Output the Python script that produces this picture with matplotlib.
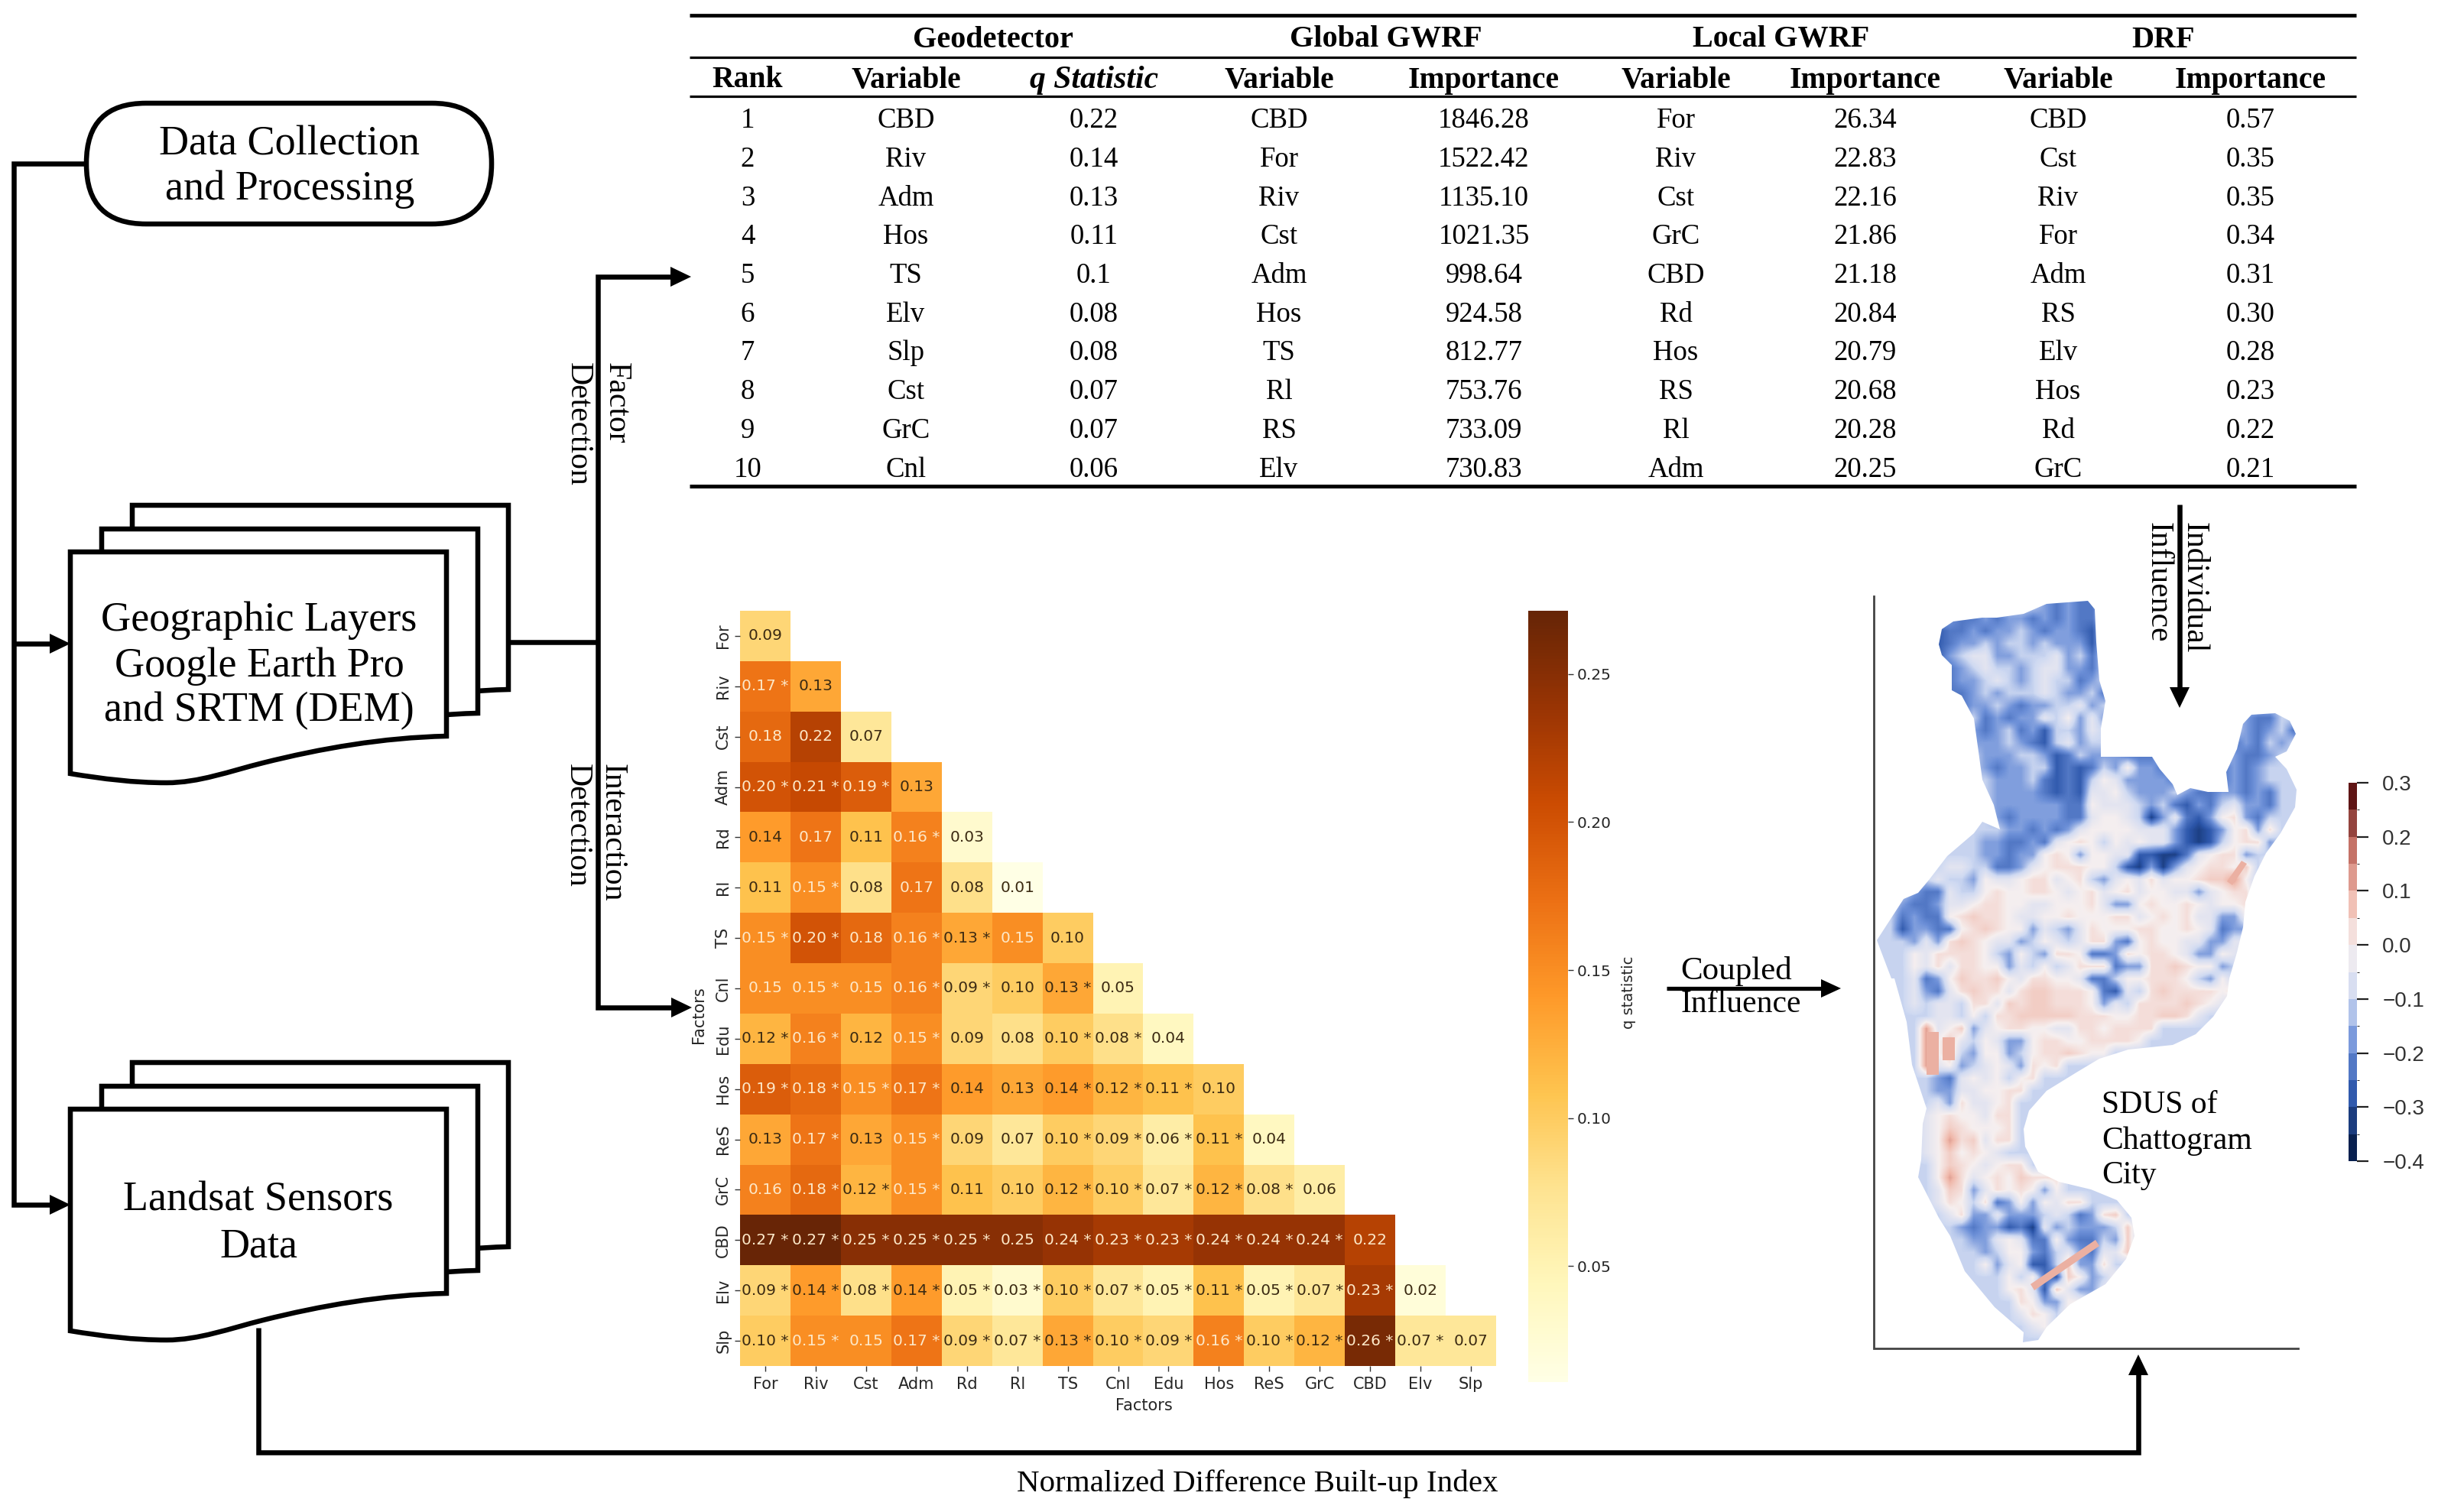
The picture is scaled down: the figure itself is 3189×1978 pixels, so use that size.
# flowchart with results table, interaction heatmap and residual map
import numpy as np
import matplotlib
matplotlib.use('Agg')
import matplotlib.pyplot as plt
from matplotlib.cm import ScalarMappable
from matplotlib.colors import BoundaryNorm, LinearSegmentedColormap, Normalize
from matplotlib.patches import FancyBboxPatch, PathPatch, Polygon
from matplotlib.path import Path

# table
ranks = ['1', '2', '3', '4', '5', '6', '7', '8', '9', '10']
geo_var = ['CBD', 'Riv', 'Adm', 'Hos', 'TS', 'Elv', 'Slp', 'Cst', 'GrC', 'Cnl']
geo_q = ['0.22', '0.14', '0.13', '0.11', '0.1', '0.08', '0.08', '0.07', '0.07', '0.06']
gwrf_var = ['CBD', 'For', 'Riv', 'Cst', 'Adm', 'Hos', 'TS', 'Rl', 'RS', 'Elv']
gwrf_imp = ['1846.28', '1522.42', '1135.10', '1021.35', '998.64', '924.58', '812.77', '753.76', '733.09', '730.83']
local_var = ['For', 'Riv', 'Cst', 'GrC', 'CBD', 'Rd', 'Hos', 'RS', 'Rl', 'Adm']
local_imp = ['26.34', '22.83', '22.16', '21.86', '21.18', '20.84', '20.79', '20.68', '20.28', '20.25']
drf_var = ['CBD', 'Cst', 'Riv', 'For', 'Adm', 'RS', 'Elv', 'Hos', 'Rd', 'GrC']
drf_imp = ['0.57', '0.35', '0.35', '0.34', '0.31', '0.30', '0.28', '0.23', '0.22', '0.21']
table_cols = [ranks, geo_var, geo_q, gwrf_var, gwrf_imp, local_var, local_imp, drf_var, drf_imp]
table_head = ['Rank', 'Variable', 'q Statistic', 'Variable', 'Importance', 'Variable', 'Importance', 'Variable', 'Importance']
table_groups = ['Geodetector', 'Global GWRF', 'Local GWRF', 'DRF']

# heatmap, a star marks a significant interaction
factors = ['For', 'Riv', 'Cst', 'Adm', 'Rd', 'Rl', 'TS', 'Cnl', 'Edu', 'Hos', 'ReS', 'GrC', 'CBD', 'Elv', 'Slp']
q_rows = [
    '0.09',
    '0.17* 0.13',
    '0.18 0.22 0.07',
    '0.20* 0.21* 0.19* 0.13',
    '0.14 0.17 0.11 0.16* 0.03',
    '0.11 0.15* 0.08 0.17 0.08 0.01',
    '0.15* 0.20* 0.18 0.16* 0.13* 0.15 0.10',
    '0.15 0.15* 0.15 0.16* 0.09* 0.10 0.13* 0.05',
    '0.12* 0.16* 0.12 0.15* 0.09 0.08 0.10* 0.08* 0.04',
    '0.19* 0.18* 0.15* 0.17* 0.14 0.13 0.14* 0.12* 0.11* 0.10',
    '0.13 0.17* 0.13 0.15* 0.09 0.07 0.10* 0.09* 0.06* 0.11* 0.04',
    '0.16 0.18* 0.12* 0.15* 0.11 0.10 0.12* 0.10* 0.07* 0.12* 0.08* 0.06',
    '0.27* 0.27* 0.25* 0.25* 0.25* 0.25 0.24* 0.23* 0.23* 0.24* 0.24* 0.24* 0.22',
    '0.09* 0.14* 0.08* 0.14* 0.05* 0.03* 0.10* 0.07* 0.05* 0.11* 0.05* 0.07* 0.23* 0.02',
    '0.10* 0.15* 0.15 0.17* 0.09* 0.07* 0.13* 0.10* 0.09* 0.16* 0.10* 0.12* 0.26* 0.07* 0.07',
]

map_levels = [-0.34, -0.29, -0.24, -0.18, -0.11, -0.05, -0.005, 0.03, 0.06, 0.13]
map_rows = [
    '..............32322',
    '......3223233232322',
    '.....12232334323321',
    '.....12334344343331',
    '.....13455334445342',
    '......2345443455332',
    '......2334543454423',
    '......22343444543342',
    '.......2334323344534',
    '.......3423233546353...........322',
    '........32342314435............32342',
    '........33343214534...........23243',
    '.........333443124333222......3223',
    '.........3233441212436332....232344',
    '..........3334212146533332...2323444',
    '..........33332121556433343223323244',
    '..........33333322655543421324533244',
    '..........3233332256654035213673244',
    '...........33232356666555310136737',
    '........43322325676465655310146773',
    '......4443323367636655110025677344',
    '......5544223567776641030356776847',
    '....454436556775674356575667889644',
    '4443225446766776567567566553567744',
    '443223556776655666753367667656674',
    '4423226787765566766677567675533644',
    '4413322678766354357666776676523364',
    '4443537876553465457732676655335544',
    '.4465777764364377622376776533654',
    '.446575776635464577723377876634',
    '..4523687786577665224667776436',
    '..4532578775788777621547877776744',
    '..45455477587887776354777787654',
    '...445546477888887776677887544',
    '...4956835677665577677774444',
    '...49685465336776677776444',
    '...49684366346778766444',
    '...49563456537674444',
    '....4325656467444',
    '....43355667744',
    '....4537556744',
    '....567665774',
    '....568766674',
    '....569785774',
    '....568676544',
    '....46876567744',
    '...446975676877744',
    '...445873576763644444',
    '....4576472363657744',
    '.....45733533345423784',
    '......4323312053433348',
    '......44335652263224384',
    '.......4434663245325584',
    '........4635611483374',
    '.........4464621863464',
    '..........4675185335544',
    '...........476336644',
    '...........4576464',
    '............45644',
    '............4444',
]
# outline of the city
map_outline_x = [2540, 2555, 2593, 2612, 2647, 2677, 2731, 2740, 2742, 2746, 2754, 2748, 2748, 2784, 2815, 2825, 2842, 2848,
                 2865, 2888, 2915, 2912, 2926, 2934, 2945, 2976, 2995, 3003, 2991, 2976, 2991, 3004, 3002, 2983, 2964, 2949,
                 2937, 2934, 2926, 2916, 2916, 2913, 2895, 2872, 2842, 2784, 2746, 2716, 2677, 2654, 2647, 2649, 2666, 2693,
                 2735, 2769, 2788, 2792, 2781, 2754, 2708, 2677, 2666, 2646, 2647, 2609, 2570, 2551, 2536, 2509, 2513, 2515,
                 2520, 2501, 2494, 2478, 2474, 2455, 2490, 2509, 2524, 2547, 2582, 2593, 2616, 2608, 2593, 2582, 2566, 2553,
                 2553, 2540, 2536]
map_outline_y = [823, 813, 808, 808, 803, 790, 786, 797, 840, 890, 917, 953, 990, 990, 990, 1006, 1026, 1040, 1031, 1036,
                 1036, 1010, 980, 947, 935, 933, 943, 960, 983, 990, 1006, 1033, 1056, 1090, 1116, 1146, 1180, 1213, 1246,
                 1280, 1280, 1303, 1330, 1353, 1367, 1373, 1385, 1403, 1427, 1453, 1477, 1500, 1533, 1546, 1556, 1570, 1593,
                 1617, 1647, 1680, 1706, 1736, 1753, 1756, 1743, 1710, 1663, 1617, 1593, 1540, 1517, 1470, 1450, 1393, 1337,
                 1280, 1280, 1230, 1176, 1168, 1150, 1120, 1090, 1075, 1085, 1053, 1020, 940, 910, 903, 870, 857, 843]
# sharp salmon strips on top of the grid
map_strips = [
    ([2520, 2536, 2536, 2520], [1350, 1350, 1406, 1406]),
    ([2541, 2557, 2557, 2541], [1357, 1357, 1387, 1387]),
    ([2656, 2741, 2746, 2661], [1680, 1622, 1630, 1688]),
    ([2913, 2932, 2939, 2920], [1153, 1126, 1130, 1158]),
]

# flow chart text
pill_text = ['Data Collection', 'and Processing']
geo_text = ['Geographic Layers', 'Google Earth Pro', 'and SRTM (DEM)']
landsat_text = ['Landsat Sensors', 'Data']
map_text = ['SDUS of', 'Chattogram', 'City']
bottom_text = 'Normalized Difference Built-up Index'

W, H = 3189, 1978
SERIF = 'Liberation Serif'
plt.rcParams['font.family'] = ['DejaVu Sans']
plt.rcParams['text.color'] = '#262626'

fig = plt.figure(figsize=(W / 100, H / 100), dpi=100, facecolor='white')


def axes_px(x0, y0, x1, y1):
    # axes from pixel corners, y counted from the top
    return fig.add_axes([x0 / W, 1 - y1 / H, (x1 - x0) / W, (y1 - y0) / H])


# ---- heatmap
ax_hm = axes_px(968, 799, 1957, 1787)
n = len(factors)
q = np.full((n, n), np.nan)
labels = {}
for i, row in enumerate(q_rows):
    for j, s in enumerate(row.split()):
        q[i, j] = float(s.rstrip('*'))
        labels[(i, j)] = s
vmin, vmax = 0.0108, 0.2714
mesh = ax_hm.pcolormesh(np.arange(n + 1), np.arange(n + 1), np.ma.masked_invalid(q), cmap='YlOrBr', vmin=vmin, vmax=vmax)
ax_hm.set_ylim(n, 0)
for (i, j), s in labels.items():
    txt = s.replace('*', ' *')
    col = '#fde8c8' if q[i, j] >= 0.145 else '#3b2a12'
    ax_hm.text(j + 0.5, i + 0.5, txt, ha='center', va='center', fontsize=14.5, color=col)
ax_hm.set_xticks(np.arange(n) + 0.5)
ax_hm.set_yticks(np.arange(n) + 0.5)
ax_hm.set_xticklabels(factors, fontsize=15)
ax_hm.set_yticklabels(factors, fontsize=15, rotation=90, va='center')
ax_hm.tick_params(length=5, width=1, color='#333333', labelcolor='#262626')
ax_hm.tick_params(axis='x', pad=5)
ax_hm.set_xlabel('Factors', fontsize=15, color='#262626')
ax_hm.set_ylabel('Factors', fontsize=15, color='#262626')
ax_hm.xaxis.set_label_coords(0.534, -0.043)
ax_hm.yaxis.set_label_coords(-0.044, 0.465)
for sp in ax_hm.spines.values():
    sp.set_visible(False)

cax = axes_px(1999, 799, 2051, 1808)
cb = fig.colorbar(mesh, cax=cax)
cb.set_ticks([0.05, 0.10, 0.15, 0.20, 0.25])
cb.ax.tick_params(labelsize=14.5, length=5, width=1, color='#333333', labelcolor='#262626')
cb.outline.set_visible(False)
cb.set_label('q statistic', fontsize=14, color='#262626')
cb.ax.yaxis.set_label_coords(2.34, 0.505)

# ---- full figure axes in pixels for table, chart and map
ax = fig.add_axes([0, 0, 1, 1], facecolor='none')
ax.set_xlim(0, W)
ax.set_ylim(H, 0)
ax.axis('off')

# table
rule_x = (902, 3082)
for y, lw in [(20, 3.4), (74.5, 2.3), (126, 2.3), (636, 3.6)]:
    ax.plot(rule_x, (y, y), color='black', lw=lw, solid_capstyle='butt')
col_x = [978, 1185, 1431, 1673, 1941, 2192, 2440, 2692, 2944]
group_x = [1299, 1813, 2330, 2830]
for gx, g in zip(group_x, table_groups):
    ax.text(gx, 52, g, family=SERIF, fontsize=29, weight='bold', color='black', ha='center', va='center')
for cx, h, col in zip(col_x, table_head, table_cols):
    style = 'italic' if h.startswith('q') else 'normal'
    ax.text(cx, 105, h, family=SERIF, fontsize=30 if style == 'italic' else 28.5, weight='bold', style=style, color='black', ha='center', va='center')
    for i, s in enumerate(col):
        ax.text(cx, 158 + i * 50.7, s, family=SERIF, fontsize=26.5, color='black', ha='center', va='center')

# flow chart
LW = 4.7


def draw_line(xs, ys, lw=LW):
    ax.plot(xs, ys, color='black', lw=lw, solid_joinstyle='miter', solid_capstyle='butt', zorder=3)


def head(x, y, dx, dy, length=27, half=13):
    # triangle with its tip at x, y pointing along dx, dy
    tip = np.array([x, y], float)
    d = np.array([dx, dy], float)
    p = np.array([-dy, dx], float)
    ax.add_patch(Polygon([tip, tip - d * length + p * half, tip - d * length - p * half], closed=True,
                         facecolor='black', edgecolor='none', zorder=4))


def doc(x, y):
    # one page, x and y are its top left corner
    w, hr, hl = 492, 241, 290
    verts = [(x, y), (x + w, y), (x + w, y + hr),
             (x + w - 84, y + hr + 2), (x + w - 164, y + hr + 16), (x + w - 240, y + hr + 35),
             (x + w - 284, y + hr + 46), (x + w - 324, y + hr + 61), (x + w - 366, y + hr + 61),
             (x + w - 409, y + hr + 61), (x + w - 449, y + hr + 56), (x, y + hl),
             (x, y)]
    codes = [Path.MOVETO, Path.LINETO, Path.LINETO] + [Path.CURVE4] * 9 + [Path.CLOSEPOLY]
    ax.add_patch(PathPatch(Path(verts, codes), facecolor='white', edgecolor='black', lw=LW,
                           joinstyle='miter', zorder=5))


def stack(x, y):
    doc(x + 81, y - 61)
    doc(x + 41, y - 30)
    doc(x, y)


stack(92, 722)
stack(92, 1451)
ax.add_patch(FancyBboxPatch((113, 135), 530, 158, boxstyle='round,pad=0,rounding_size=78', facecolor='white',
                            edgecolor='black', lw=LW, zorder=5))

for t, y in zip(pill_text, [189, 248]):
    ax.text(379, y, t, family=SERIF, fontsize=39, color='black', ha='center', va='center', zorder=6)
for t, y in zip(geo_text, [812, 872, 930]):
    ax.text(339, y, t, family=SERIF, fontsize=39, color='black', ha='center', va='center', zorder=6)
for t, y in zip(landsat_text, [1570, 1631]):
    ax.text(338, y, t, family=SERIF, fontsize=39, color='black', ha='center', va='center', zorder=6)

draw_line([113, 18, 18, 70], [214, 214, 1576, 1576])
draw_line([18, 70], [842, 842])
head(92, 842, 1, 0)
head(92, 1576, 1, 0)
draw_line([665, 782], [840, 840])
draw_line([880, 782, 782, 882], [362, 362, 1318, 1318])
head(904, 362, 1, 0)
head(905, 1318, 1, 0)
draw_line([338, 338, 2797, 2797], [1737, 1900, 1900, 1795])
head(2797, 1772, 0, -1)
draw_line([2851, 2851], [660, 902])
head(2851, 926, 0, 1)
draw_line([2180, 2385], [1293, 1293], lw=3.8)
head(2408, 1293, 1, 0, length=26, half=12)

for t, x, top in [('Factor', 806, 474), ('Detection', 756, 474), ('Interaction', 801, 999), ('Detection', 755, 999),
                  ('Individual', 2870, 683), ('Influence', 2823, 683)]:
    ax.text(x, top, t, family=SERIF, fontsize=30, color='black', rotation=-90, ha='center', va='top')
ax.text(2198, 1270, 'Coupled', family=SERIF, fontsize=31, color='black', ha='left', va='center')
ax.text(2198, 1314, 'Influence', family=SERIF, fontsize=30, color='black', ha='left', va='center')
ax.text(1645, 1941, bottom_text, family=SERIF, fontsize=29.5, color='black', ha='center', va='center')
for t, y in zip(map_text, [1446, 1493, 1538]):
    ax.text(2749, y, t, family=SERIF, fontsize=30, color='black', ha='left', va='center')

# map
map_cmap = LinearSegmentedColormap.from_list('map', [
    (0.0, '#08204f'), (1 / 7, '#2c56aa'), (2 / 7, '#6d90d8'), (3 / 7, '#d0daf2'),
    (4 / 7, '#f6efef'), (5 / 7, '#f0b8aa'), (6 / 7, '#c06a60'), (1.0, '#5f1515')])
map_norm = Normalize(-0.4, 0.3)
grid = np.full((len(map_rows), 36), -0.11)
for r, row in enumerate(map_rows):
    for c, ch in enumerate(row[:36]):
        if ch != '.':
            grid[r, c] = map_levels[int(ch)]
img = ax.imshow(grid, cmap=map_cmap, norm=map_norm, extent=(2450, 3008, 1760, 785), aspect='auto',
                interpolation='bilinear', zorder=1)
outline = Polygon(np.column_stack([map_outline_x, map_outline_y]), closed=True, transform=ax.transData,
                  facecolor='none', edgecolor='none')
ax.add_patch(outline)
img.set_clip_path(outline)
for sx, sy in map_strips:
    ax.add_patch(Polygon(np.column_stack([sx, sy]), closed=True, facecolor=map_cmap(map_norm(0.11)), edgecolor='none', zorder=1.5))
ax.set_xlim(0, W)
ax.set_ylim(H, 0)
ax.plot([2451, 2451, 3006], [780, 1764, 1764], color='#444444', lw=2, solid_joinstyle='miter', zorder=2)

# map colorbar
cax2 = axes_px(3072, 1024, 3083, 1519)
steps = np.arange(-0.4, 0.3001, 0.05)
cb2 = fig.colorbar(ScalarMappable(BoundaryNorm(steps, 256), map_cmap), cax=cax2)
cb2.set_ticks([-0.4, -0.3, -0.2, -0.1, 0.0, 0.1, 0.2, 0.3])
cb2.ax.tick_params(labelsize=20, length=11, width=1.6, color='#222222', labelcolor='#333333', pad=13)
for lab in cb2.ax.get_yticklabels():
    lab.set_family('Liberation Sans')
cb2.outline.set_visible(False)

fig.savefig('out.png', dpi=100)
